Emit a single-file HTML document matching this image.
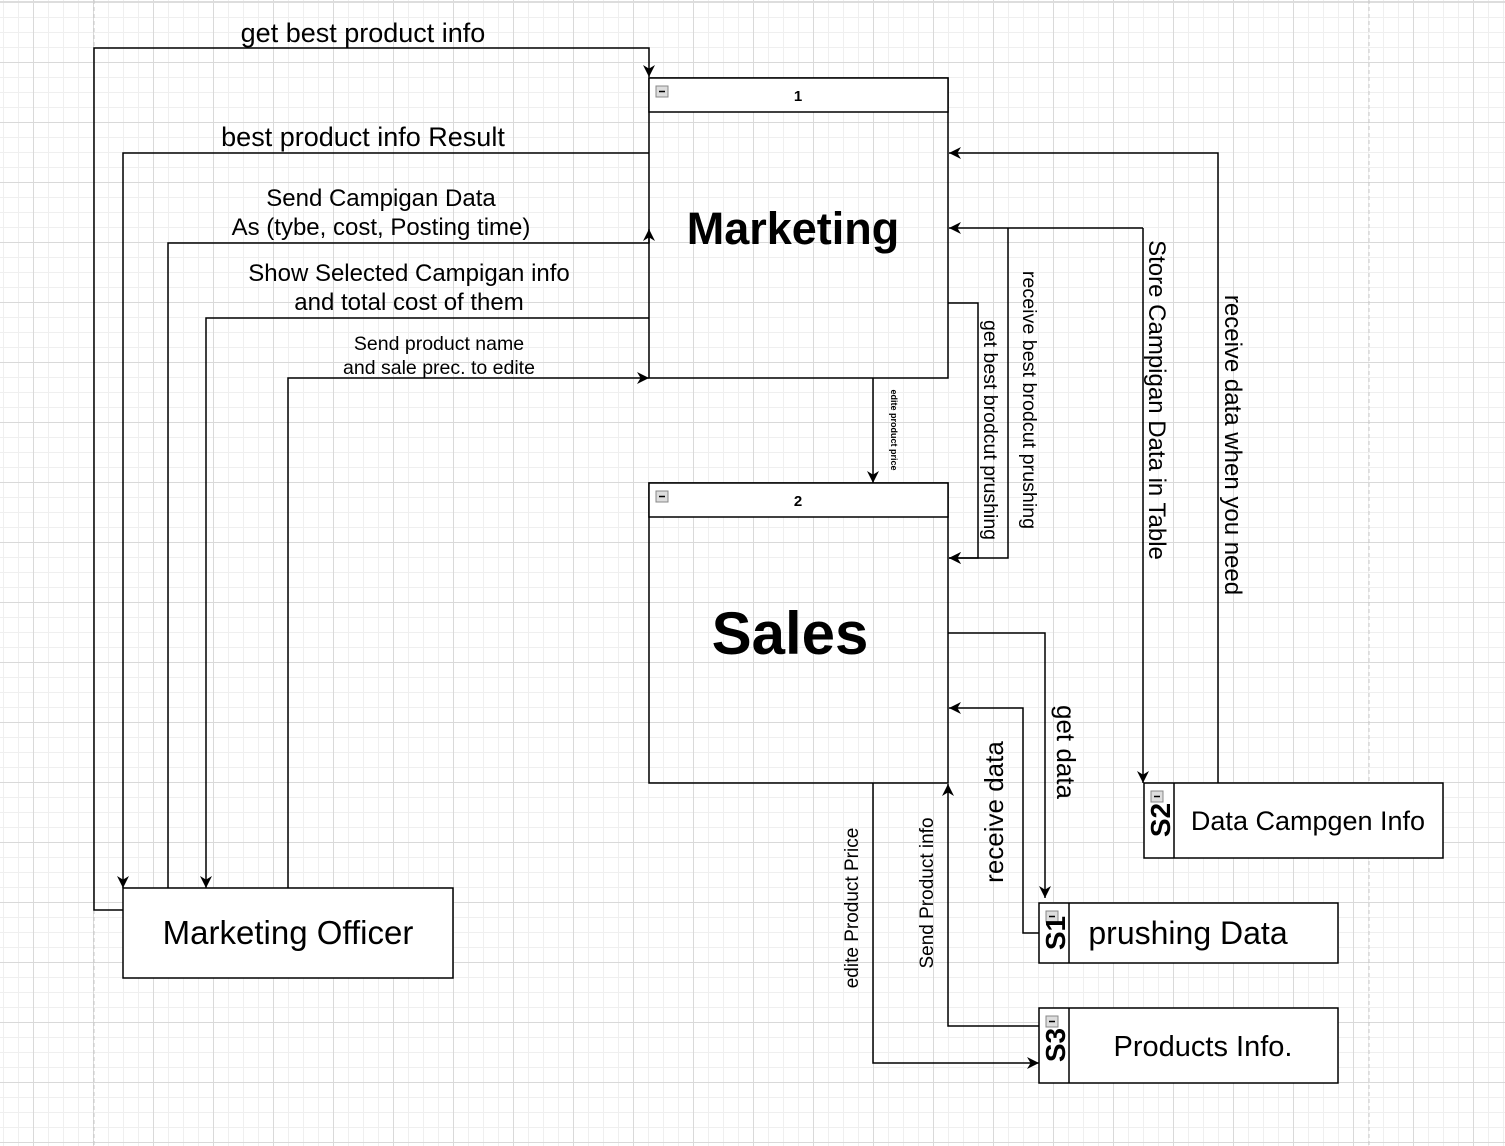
<!DOCTYPE html>
<html><head><meta charset="utf-8"><style>
html,body{margin:0;padding:0;background:#fff}
svg{display:block}
text{font-family:"Liberation Sans",sans-serif;fill:#000}
</style></head><body>
<svg width="1505" height="1146" viewBox="0 0 1505 1146" xmlns="http://www.w3.org/2000/svg">
<defs>
<pattern id="minor" width="15" height="15" patternUnits="userSpaceOnUse" x="3" y="2">
<path d="M0 0.5H15M0.5 0V15" stroke="#efefef" stroke-width="1" fill="none"/>
</pattern>
<pattern id="major" width="60" height="60" patternUnits="userSpaceOnUse" x="33" y="2">
<path d="M0 0.5H60M0.5 0V60" stroke="#d9d9d9" stroke-width="1" fill="none"/>
</pattern>
<marker id="a" viewBox="0 0 10 10" refX="10" refY="5" markerWidth="12" markerHeight="12" markerUnits="userSpaceOnUse" orient="auto">
<path d="M0 0L10 5L0 10L3 5Z" fill="#000"/>
</marker>
</defs>
<rect width="1505" height="1146" fill="url(#minor)"/>
<rect width="1505" height="1146" fill="url(#major)"/>
<line x1="0" y1="2" x2="1505" y2="2" stroke="#ddd" stroke-width="2"/>
<line x1="94" y1="0" x2="94" y2="1146" stroke="#c8c8c8" stroke-dasharray="4,3"/>
<line x1="1369" y1="0" x2="1369" y2="1146" stroke="#c8c8c8" stroke-dasharray="4,3"/>

<g fill="none" stroke="#000" stroke-width="1.5">
<path d="M123 910H94V48H649V77" marker-end="url(#a)"/>
<path d="M649 153H123V888" marker-end="url(#a)"/>
<path d="M168 888V243H649V229" marker-end="url(#a)"/>
<path d="M649 318H206V888" marker-end="url(#a)"/>
<path d="M288 888V378H649" marker-end="url(#a)"/>
<path d="M873 378V483" marker-end="url(#a)"/>
<path d="M948 303H978V558H949" marker-end="url(#a)"/>
<path d="M1008 228V558H949" marker-end="url(#a)"/>
<path d="M1143 228H949" marker-end="url(#a)"/>
<path d="M1143 228V783" marker-end="url(#a)"/>
<path d="M1218 783V153H949" marker-end="url(#a)"/>
<path d="M948 633H1045V898" marker-end="url(#a)"/>
<path d="M1039 933H1023V708H949" marker-end="url(#a)"/>
<path d="M1039 1026H948V784" marker-end="url(#a)"/>
<path d="M873 783V1063H1039" marker-end="url(#a)"/>
</g>

<g fill="#fff" stroke="#000" stroke-width="1.5">
<rect x="649" y="78" width="299" height="300" fill="none"/>
<rect x="649" y="78" width="299" height="34"/>
<rect x="649" y="483" width="299" height="300" fill="none"/>
<rect x="649" y="483" width="299" height="34"/>
<rect x="123" y="888" width="330" height="90"/>
<rect x="1144" y="783" width="299" height="75"/>
<line x1="1174" y1="783" x2="1174" y2="858"/>
<rect x="1039" y="903" width="299" height="60"/>
<line x1="1069" y1="903" x2="1069" y2="963"/>
<rect x="1039" y="1008" width="299" height="75"/>
<line x1="1069" y1="1008" x2="1069" y2="1083"/>
</g>
<g fill="#ddd" stroke="#888" stroke-width="1">
<rect x="656" y="86" width="12" height="11"/>
<rect x="656" y="491" width="12" height="11"/>
<rect x="1151" y="791" width="12" height="11"/>
<rect x="1046" y="911" width="12" height="11"/>
<rect x="1046" y="1016" width="12" height="11"/>
</g>
<g stroke="#000" stroke-width="1.5">
<line x1="659" y1="91.5" x2="665" y2="91.5"/><line x1="659" y1="496.5" x2="665" y2="496.5"/>
<line x1="1154" y1="796.5" x2="1160" y2="796.5"/><line x1="1049" y1="916.5" x2="1055" y2="916.5"/>
<line x1="1049" y1="1021.5" x2="1055" y2="1021.5"/>
</g>

<text x="798" y="101" font-size="15" font-weight="bold" text-anchor="middle">1</text>
<text x="798" y="506" font-size="15" font-weight="bold" text-anchor="middle">2</text>
<text x="793" y="244" font-size="45" font-weight="bold" text-anchor="middle">Marketing</text>
<text x="790" y="654" font-size="60" font-weight="bold" text-anchor="middle">Sales</text>
<text x="288" y="944" font-size="33" text-anchor="middle">Marketing Officer</text>
<text x="1308" y="830" font-size="27" text-anchor="middle">Data Campgen Info</text>
<text x="1188" y="944" font-size="32" text-anchor="middle">prushing Data</text>
<text x="1203" y="1056" font-size="29" text-anchor="middle">Products Info.</text>
<text transform="translate(1170 820) rotate(-90)" font-size="28" font-weight="bold" text-anchor="middle">S2</text>
<text transform="translate(1065 933) rotate(-90)" font-size="28" font-weight="bold" text-anchor="middle">S1</text>
<text transform="translate(1065 1045) rotate(-90)" font-size="28" font-weight="bold" text-anchor="middle">S3</text>

<g text-anchor="middle">
<text x="363" y="42" font-size="27">get best product info</text>
<text x="363" y="146" font-size="27">best product info Result</text>
<text x="381" y="206" font-size="24">Send Campigan Data</text>
<text x="381" y="235" font-size="24">As (tybe, cost, Posting time)</text>
<text x="409" y="281" font-size="24">Show Selected Campigan info</text>
<text x="409" y="310" font-size="24">and total cost of them</text>
<text x="439" y="350" font-size="19.5">Send product name</text>
<text x="439" y="374" font-size="19.5">and sale prec. to edite</text>
<text transform="translate(891 430) rotate(90)" font-size="9" font-weight="bold">edite product price</text>
<text transform="translate(984 430) rotate(90)" font-size="19.5">get best brodcut prushing</text>
<text transform="translate(1023 400) rotate(90)" font-size="19.7">receive best brodcut prushing</text>
<text transform="translate(1149 400) rotate(90)" font-size="24">Store Campigan Data in Table</text>
<text transform="translate(1225 445) rotate(90)" font-size="24">receive data when you need</text>
<text transform="translate(1057 752) rotate(90)" font-size="26">get data</text>
<text transform="translate(1003 812) rotate(-90)" font-size="26">receive data</text>
<text transform="translate(933 893) rotate(-90)" font-size="19">Send Product info</text>
<text transform="translate(858 908) rotate(-90)" font-size="19">edite Product Price</text>
</g>
</svg>
</body></html>
